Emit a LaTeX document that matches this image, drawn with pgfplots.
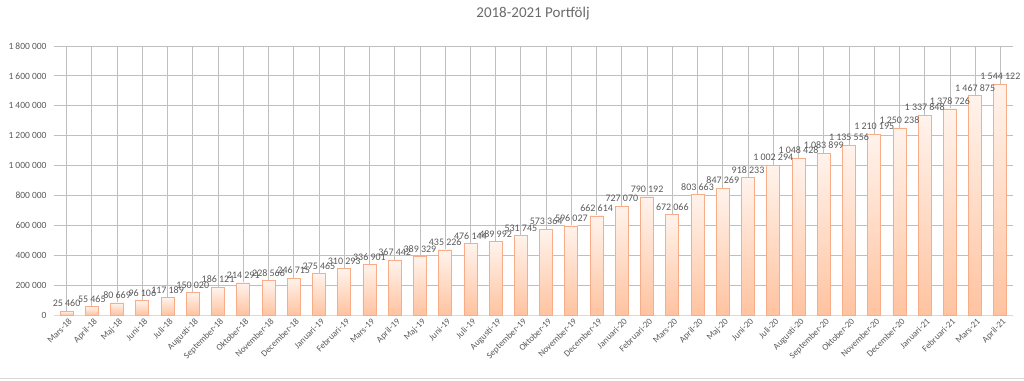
\documentclass[border=0pt]{standalone}
\usepackage{pgfplots}
\pgfplotsset{compat=1.18}
\usepackage{fontspec}
\setmainfont{Carlito}
\definecolor{txt}{HTML}{595959}
\definecolor{grid}{HTML}{D9D9D9}
\definecolor{bord}{HTML}{F8AD88}
\definecolor{btop}{HTML}{FFF3EC}
\definecolor{bbot}{HTML}{FFC3A0}
\def\s{\hspace{0.22em}}
\begin{document}
\begin{tikzpicture}
\useasboundingbox (0,0) rectangle (1024bp,381bp);
\node[text=txt!90, font=\fontsize{15bp}{17bp}\selectfont] at (533bp,367bp) {2018-2021 Portfölj};
\draw[grid, line width=0.8bp] (0,3bp) -- (1024bp,3bp);
\begin{axis}[
  at={(54bp,66bp)}, anchor=south west,
  width=959bp, height=269bp, scale only axis,
  xmin=-0.5, xmax=37.5, ymin=0, ymax=1800000,
  ytick={0,200000,...,1800000},
  scaled y ticks=false,
  yticklabel style={text=txt, font=\fontsize{9.5bp}{11bp}\selectfont, xshift=-4bp},
  /pgf/number format/assume math mode=true,
  /pgf/number format/fixed,
  /pgf/number format/1000 sep={\s},
  ymajorgrids, grid style={grid, line width=0.8bp},
  axis line style={draw=none},
  axis x line*=bottom,
  xtick={0,...,37},
  xticklabels={Mars-18,April-18,Maj-18,Juni-18,Juli-18,Augusti-18,September-18,Oktober-18,November-18,December-18,Januari-19,Februari-19,Mars-19,April-19,Maj-19,Juni-19,Juli-19,Augusti-19,September-19,Oktober-19,November-19,December-19,Januari-20,Februari-20,Mars-20,April-20,Maj-20,Juni-20,Juli-20,Augusti-20,September-20,Oktober-20,November-20,December-20,Januari-21,Februari-21,Mars-21,April-21},
  xticklabel style={rotate=45, anchor=north east, text=txt, font=\fontsize{9bp}{11bp}\selectfont, inner sep=1bp, yshift=-2bp},
  major tick length=0pt,
  ybar, bar width=13bp,
  point meta=explicit symbolic,
  barsty/.style={bar shift=0pt, draw=bord, line width=0.8bp, top color=btop, bottom color=bbot, forget plot,
    nodes near coords,
    every node near coord/.append style={text=txt, font=\fontsize{10bp}{12bp}\selectfont, inner sep=1bp, yshift=3bp}},
  clip=false,
]
\draw[grid, line width=0.8bp] (axis cs:-0.5,0) -- (axis cs:37.5,0);
\addplot[barsty] coordinates {(0,25460) [25\s460]};
\addplot[barsty] coordinates {(1,55465) [55\s465]};
\addplot[barsty] coordinates {(2,80669) [80\s669]};
\addplot[barsty] coordinates {(3,96106) [96\s106]};
\addplot[barsty] coordinates {(4,117189) [117\s189]};
\addplot[barsty] coordinates {(5,150020) [150\s020]};
\addplot[barsty] coordinates {(6,186121) [186\s121]};
\addplot[barsty] coordinates {(7,214291) [214\s291]};
\addplot[barsty] coordinates {(8,228566) [228\s566]};
\addplot[barsty] coordinates {(9,246715) [246\s715]};
\addplot[barsty] coordinates {(10,275465) [275\s465]};
\addplot[barsty] coordinates {(11,310293) [310\s293]};
\addplot[barsty] coordinates {(12,336901) [336\s901]};
\addplot[barsty] coordinates {(13,367442) [367\s442]};
\addplot[barsty] coordinates {(14,389329) [389\s329]};
\addplot[barsty] coordinates {(15,435226) [435\s226]};
\addplot[barsty] coordinates {(16,476144) [476\s144]};
\addplot[barsty] coordinates {(17,489992) [489\s992]};
\addplot[barsty] coordinates {(18,531745) [531\s745]};
\addplot[barsty] coordinates {(19,573364) [573\s364]};
\addplot[barsty] coordinates {(20,596027) [596\s027]};
\addplot[barsty] coordinates {(21,662614) [662\s614]};
\addplot[barsty] coordinates {(22,727070) [727\s070]};
\addplot[barsty] coordinates {(23,790192) [790\s192]};
\addplot[barsty] coordinates {(24,672066) [672\s066]};
\addplot[barsty] coordinates {(25,803663) [803\s663]};
\addplot[barsty] coordinates {(26,847269) [847\s269]};
\addplot[barsty] coordinates {(27,918233) [918\s233]};
\addplot[barsty] coordinates {(28,1002294) [1\s002\s294]};
\addplot[barsty] coordinates {(29,1048428) [1\s048\s428]};
\addplot[barsty] coordinates {(30,1083899) [1\s083\s899]};
\addplot[barsty] coordinates {(31,1135556) [1\s135\s556]};
\addplot[barsty] coordinates {(32,1210195) [1\s210\s195]};
\addplot[barsty] coordinates {(33,1250238) [1\s250\s238]};
\addplot[barsty] coordinates {(34,1337848) [1\s337\s848]};
\addplot[barsty] coordinates {(35,1378726) [1\s378\s726]};
\addplot[barsty] coordinates {(36,1467875) [1\s467\s875]};
\addplot[barsty] coordinates {(37,1544122) [1\s544\s122]};
\end{axis}
\end{tikzpicture}
\end{document}
